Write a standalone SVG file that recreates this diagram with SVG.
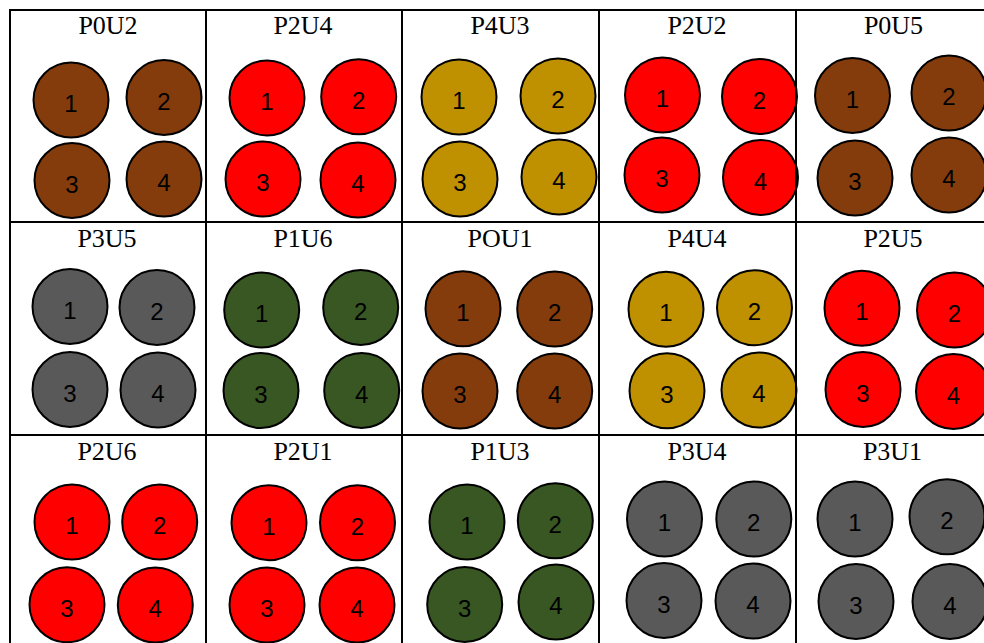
<svg xmlns="http://www.w3.org/2000/svg" width="984" height="643" viewBox="0 0 984 643">
<style>
.bg{fill:#ffffff}
.grid line{stroke:#000000;stroke-width:2}
circle{stroke:#000000;stroke-width:2}
.br{fill:#843C0C}
.rd{fill:#FF0000}
.gd{fill:#BF9000}
.gy{fill:#595959}
.gn{fill:#385723}
.lbl{font-family:"Liberation Serif","Times New Roman",serif;font-size:26px;fill:#000000;text-anchor:middle}
.num{font-family:"Liberation Sans",Arial,sans-serif;font-size:24px;fill:#000000;text-anchor:middle}
</style>
<rect class="bg" x="0" y="0" width="984" height="643"/>

<g id="cell-P0U2">
<text class="lbl" x="108" y="34">P0U2</text>
<circle class="br" cx="71" cy="100" r="37.5"/><text class="num" x="71" y="112">1</text>
<circle class="br" cx="164" cy="97.5" r="37.5"/><text class="num" x="164" y="109.5">2</text>
<circle class="br" cx="72" cy="180.5" r="37.5"/><text class="num" x="72" y="192.5">3</text>
<circle class="br" cx="164" cy="179" r="37.5"/><text class="num" x="164" y="191">4</text>
</g>
<g id="cell-P2U4">
<text class="lbl" x="303" y="34">P2U4</text>
<circle class="rd" cx="267" cy="98" r="37.5"/><text class="num" x="267" y="110">1</text>
<circle class="rd" cx="358.7" cy="96.7" r="37.5"/><text class="num" x="358.7" y="108.7">2</text>
<circle class="rd" cx="263" cy="179" r="37.5"/><text class="num" x="263" y="191">3</text>
<circle class="rd" cx="358" cy="180" r="37.5"/><text class="num" x="358" y="192">4</text>
</g>
<g id="cell-P4U3">
<text class="lbl" x="500" y="34">P4U3</text>
<circle class="gd" cx="459" cy="97" r="37.5"/><text class="num" x="459" y="109">1</text>
<circle class="gd" cx="558" cy="96" r="37.5"/><text class="num" x="558" y="108">2</text>
<circle class="gd" cx="460" cy="179" r="37.5"/><text class="num" x="460" y="191">3</text>
<circle class="gd" cx="559" cy="177" r="37.5"/><text class="num" x="559" y="189">4</text>
</g>
<g id="cell-P2U2">
<text class="lbl" x="697" y="34">P2U2</text>
<circle class="rd" cx="662.5" cy="95" r="37.5"/><text class="num" x="662.5" y="107">1</text>
<circle class="rd" cx="759.5" cy="96.5" r="37.5"/><text class="num" x="759.5" y="108.5">2</text>
<circle class="rd" cx="662" cy="175" r="37.5"/><text class="num" x="662" y="187">3</text>
<circle class="rd" cx="760.5" cy="177.5" r="37.5"/><text class="num" x="760.5" y="189.5">4</text>
</g>
<g id="cell-P0U5">
<text class="lbl" x="893.5" y="34">P0U5</text>
<circle class="br" cx="852.5" cy="95.5" r="37.5"/><text class="num" x="852.5" y="107.5">1</text>
<circle class="br" cx="949" cy="93" r="37.5"/><text class="num" x="949" y="105">2</text>
<circle class="br" cx="855" cy="178" r="37.5"/><text class="num" x="855" y="190">3</text>
<circle class="br" cx="949" cy="175" r="37.5"/><text class="num" x="949" y="187">4</text>
</g>

<g id="cell-P3U5">
<text class="lbl" x="107" y="247">P3U5</text>
<circle class="gy" cx="70" cy="306.5" r="37.5"/><text class="num" x="70" y="318.5">1</text>
<circle class="gy" cx="157" cy="307.5" r="37.5"/><text class="num" x="157" y="319.5">2</text>
<circle class="gy" cx="70" cy="389.5" r="37.5"/><text class="num" x="70" y="401.5">3</text>
<circle class="gy" cx="158" cy="390" r="37.5"/><text class="num" x="158" y="402">4</text>
</g>
<g id="cell-P1U6">
<text class="lbl" x="303" y="247">P1U6</text>
<circle class="gn" cx="261.7" cy="310" r="37.5"/><text class="num" x="261.7" y="322">1</text>
<circle class="gn" cx="360.7" cy="307.5" r="37.5"/><text class="num" x="360.7" y="319.5">2</text>
<circle class="gn" cx="261" cy="390.5" r="37.5"/><text class="num" x="261" y="402.5">3</text>
<circle class="gn" cx="361.7" cy="390.5" r="37.5"/><text class="num" x="361.7" y="402.5">4</text>
</g>
<g id="cell-POU1">
<text class="lbl" x="500" y="247">POU1</text>
<circle class="br" cx="463" cy="308.7" r="37.5"/><text class="num" x="463" y="320.7">1</text>
<circle class="br" cx="554.7" cy="309" r="37.5"/><text class="num" x="554.7" y="321">2</text>
<circle class="br" cx="460" cy="391" r="37.5"/><text class="num" x="460" y="403">3</text>
<circle class="br" cx="554.7" cy="391" r="37.5"/><text class="num" x="554.7" y="403">4</text>
</g>
<g id="cell-P4U4">
<text class="lbl" x="697" y="247">P4U4</text>
<circle class="gd" cx="666" cy="309.3" r="37.5"/><text class="num" x="666" y="321.3">1</text>
<circle class="gd" cx="754.5" cy="307.7" r="37.5"/><text class="num" x="754.5" y="319.7">2</text>
<circle class="gd" cx="667" cy="390.8" r="37.5"/><text class="num" x="667" y="402.8">3</text>
<circle class="gd" cx="759" cy="390" r="37.5"/><text class="num" x="759" y="402">4</text>
</g>
<g id="cell-P2U5">
<text class="lbl" x="893" y="247">P2U5</text>
<circle class="rd" cx="862" cy="308.3" r="37.5"/><text class="num" x="862" y="320.3">1</text>
<circle class="rd" cx="954.5" cy="310" r="37.5"/><text class="num" x="954.5" y="322">2</text>
<circle class="rd" cx="863" cy="389.5" r="37.5"/><text class="num" x="863" y="401.5">3</text>
<circle class="rd" cx="953.5" cy="391.5" r="37.5"/><text class="num" x="953.5" y="403.5">4</text>
</g>

<g id="cell-P2U6">
<text class="lbl" x="107" y="460">P2U6</text>
<circle class="rd" cx="72" cy="522" r="37.5"/><text class="num" x="72" y="534">1</text>
<circle class="rd" cx="159.7" cy="522" r="37.5"/><text class="num" x="159.7" y="534">2</text>
<circle class="rd" cx="67" cy="604.7" r="37.5"/><text class="num" x="67" y="616.7">3</text>
<circle class="rd" cx="155.3" cy="605" r="37.5"/><text class="num" x="155.3" y="617">4</text>
</g>
<g id="cell-P2U1">
<text class="lbl" x="303" y="460">P2U1</text>
<circle class="rd" cx="269" cy="522.7" r="37.5"/><text class="num" x="269" y="534.7">1</text>
<circle class="rd" cx="357.5" cy="522.7" r="37.5"/><text class="num" x="357.5" y="534.7">2</text>
<circle class="rd" cx="267" cy="605" r="37.5"/><text class="num" x="267" y="617">3</text>
<circle class="rd" cx="357" cy="605" r="37.5"/><text class="num" x="357" y="617">4</text>
</g>
<g id="cell-P1U3">
<text class="lbl" x="500" y="460">P1U3</text>
<circle class="gn" cx="467" cy="522" r="37.5"/><text class="num" x="467" y="534">1</text>
<circle class="gn" cx="555.3" cy="520.8" r="37.5"/><text class="num" x="555.3" y="532.8">2</text>
<circle class="gn" cx="464.7" cy="604.5" r="37.5"/><text class="num" x="464.7" y="616.5">3</text>
<circle class="gn" cx="556" cy="602" r="37.5"/><text class="num" x="556" y="614">4</text>
</g>
<g id="cell-P3U4">
<text class="lbl" x="697" y="460">P3U4</text>
<circle class="gy" cx="664.5" cy="519" r="37.5"/><text class="num" x="664.5" y="531">1</text>
<circle class="gy" cx="753.8" cy="519" r="37.5"/><text class="num" x="753.8" y="531">2</text>
<circle class="gy" cx="664" cy="600.5" r="37.5"/><text class="num" x="664" y="612.5">3</text>
<circle class="gy" cx="753" cy="601" r="37.5"/><text class="num" x="753" y="613">4</text>
</g>
<g id="cell-P3U1">
<text class="lbl" x="892.5" y="460">P3U1</text>
<circle class="gy" cx="855" cy="519" r="37.5"/><text class="num" x="855" y="531">1</text>
<circle class="gy" cx="947" cy="516.7" r="37.5"/><text class="num" x="947" y="528.7">2</text>
<circle class="gy" cx="856" cy="601.5" r="37.5"/><text class="num" x="856" y="613.5">3</text>
<circle class="gy" cx="950" cy="601.5" r="37.5"/><text class="num" x="950" y="613.5">4</text>
</g>

<g id="grid" class="grid">
<line x1="9" y1="10" x2="984" y2="10"/>
<line x1="9" y1="222" x2="984" y2="222"/>
<line x1="9" y1="435" x2="984" y2="435"/>
<line x1="10" y1="9" x2="10" y2="643"/>
<line x1="206" y1="9" x2="206" y2="643"/>
<line x1="402" y1="9" x2="402" y2="643"/>
<line x1="599" y1="9" x2="599" y2="643"/>
<line x1="796" y1="9" x2="796" y2="643"/>
</g>
<g id="connectors"/>
</svg>
